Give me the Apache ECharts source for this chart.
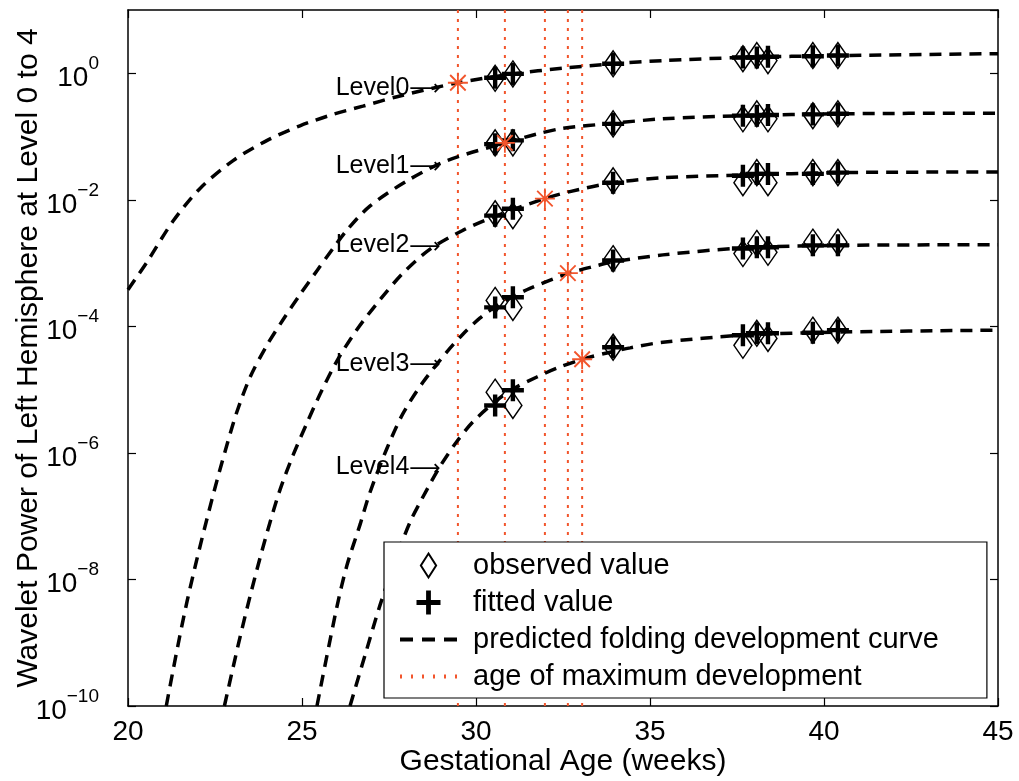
<!DOCTYPE html>
<html>
<head>
<meta charset="utf-8">
<title>Wavelet power vs gestational age</title>
<script src="https://cdn.jsdelivr.net/npm/echarts@6.0.0/dist/echarts.min.js"></script>
<style>
  html, body { margin: 0; padding: 0; background: #fff; }
  #chart { width: 1019px; height: 781px; }
</style>
</head>
<body>
<div id="chart"></div>
<script>
// ages of the 8 scans (weeks)
const ages = [30.55, 31.06, 33.94, 37.67, 38.07, 38.39, 39.68, 40.40]

// observed / fitted values, stored as log10 exponents
const obsL0 = [-0.08, -0.01, 0.15, 0.23, 0.28, 0.20, 0.28, 0.28]
const fitL0 = [-0.07, -0.01, 0.15, 0.25, 0.25, 0.26, 0.27, 0.28]
const obsL1 = [-1.10, -1.10, -0.80, -0.72, -0.64, -0.72, -0.67, -0.64]
const fitL1 = [-1.12, -1.06, -0.80, -0.67, -0.67, -0.66, -0.65, -0.64]
const obsL2 = [-2.22, -2.25, -1.70, -1.73, -1.57, -1.73, -1.57, -1.57]
const fitL2 = [-2.25, -2.14, -1.73, -1.62, -1.59, -1.59, -1.59, -1.57]
const obsL3 = [-3.59, -3.70, -2.93, -2.85, -2.69, -2.83, -2.67, -2.67]
const fitL3 = [-3.70, -3.54, -2.96, -2.77, -2.75, -2.75, -2.72, -2.72]
const obsL4 = [-5.04, -5.25, -4.33, -4.30, -4.11, -4.19, -4.06, -4.06]
const fitL4 = [-5.25, -5.01, -4.33, -4.14, -4.11, -4.11, -4.10, -4.06]

// predicted curves: [age, log10 value]
const curveL0 = [[20.0, -3.42], [20.55, -2.98], [21.29, -2.34], [22.07, -1.82], [23.02, -1.38], [24.0, -1.06],
  [24.94, -0.83], [25.89, -0.65], [26.75, -0.52], [27.73, -0.37], [29.48, -0.15], [31.06, -0.01], [32.5, 0.08],
  [33.94, 0.15], [35.37, 0.20], [37.67, 0.25], [40.46, 0.28], [45, 0.31]]
const curveL1 = [[21.1, -10.0], [21.29, -9.45], [21.49, -8.89], [21.70, -8.34], [21.98, -7.68], [22.27, -7.04],
  [22.56, -6.43], [22.84, -5.88], [23.13, -5.35], [23.51, -4.80], [23.99, -4.30], [24.45, -3.90], [24.94, -3.50],
  [25.43, -3.12], [25.89, -2.77], [26.29, -2.48], [26.95, -2.10], [28.02, -1.70], [29.17, -1.38], [30.83, -1.10],
  [31.75, -0.96], [32.5, -0.87], [33.94, -0.79], [35.37, -0.72], [37.67, -0.67], [40.46, -0.64], [45, -0.63]]
const curveL2 = [[22.77, -10.0], [23.02, -9.39], [23.22, -8.91], [23.51, -8.26], [23.79, -7.67], [24.08, -7.10],
  [24.37, -6.58], [24.74, -6.04], [25.14, -5.53], [25.52, -5.07], [26.01, -4.54], [26.58, -4.05], [27.24, -3.58],
  [27.90, -3.16], [28.68, -2.78], [29.63, -2.48], [30.55, -2.26], [31.98, -1.98], [32.70, -1.87], [33.94, -1.73],
  [35.37, -1.65], [37.67, -1.61], [40.46, -1.57], [45, -1.56]]
const curveL3 = [[25.43, -10.0], [26.0, -8.44], [26.29, -7.78], [26.67, -7.13], [26.95, -6.63], [27.44, -5.93],
  [27.90, -5.38], [28.48, -4.88], [29.17, -4.40], [29.63, -4.12], [30.11, -3.87], [30.55, -3.69], [31.06, -3.53],
  [31.55, -3.40], [32.61, -3.17], [33.48, -3.04], [33.94, -2.98], [35.37, -2.87], [37.67, -2.76], [40.46, -2.72],
  [45, -2.71]]
const curveL4 = [[26.38, -10.0], [26.81, -9.20], [27.24, -8.41], [27.67, -7.72], [28.10, -7.10], [28.59, -6.58],
  [28.97, -6.21], [29.45, -5.82], [29.91, -5.51], [30.55, -5.19], [31.06, -4.99], [31.75, -4.80], [32.33, -4.66],
  [33.05, -4.52], [33.76, -4.42], [34.43, -4.34], [35.37, -4.25], [37.67, -4.14], [40.46, -4.09], [45, -4.06]]

// age of maximum development per level
const maxAges = [29.48, 30.83, 31.98, 32.64, 33.05]
const maxExp = [-0.15, -1.10, -1.98, -3.16, -4.52]

// level tags (arrow tip)
const levelNames = ['Level0', 'Level1', 'Level2', 'Level3', 'Level4']
const tagAge = 28.99
const tagExp = [-0.23, -1.46, -2.72, -4.59, -6.23]

const xTicks = [20, 45, 5]       // min, max, step
const yExpRange = [-10, 1, 2]    // log10 min, max, step

const FONT = '"Liberation Sans", Arial, Helvetica, sans-serif'
const RED = '#f2552c'
const DIAMOND = 'path://M7,0L14,11L7,22L0,11Z'
const PLUS = 'path://M8,0H12V20H8Z M0,8H20V12H0Z'
const STAR = 'path://M9.1,0H10.9V20H9.1Z M0,9.1H20V10.9H0Z M1.6,2.9L2.9,1.6L18.4,17.1L17.1,18.4Z M17.1,1.6L18.4,2.9L2.9,18.4L1.6,17.1Z'
const DASH_ICON = 'path://M0,0H13V4H0Z M22,0H35V4H22Z M44,0H57V4H44Z'
const DOT_ICON = 'path://M0,0H2V4H0Z M11,0H13V4H11Z M22,0H24V4H22Z M33,0H35V4H33Z M44,0H46V4H44Z M55,0H57V4H55Z'

const p10 = e => Math.pow(10, e)
const curves = [curveL0, curveL1, curveL2, curveL3, curveL4]
const observed = [obsL0, obsL1, obsL2, obsL3, obsL4]
const fitted = [fitL0, fitL1, fitL2, fitL3, fitL4]

const series = []

// red dotted verticals
maxAges.forEach(a => {
  series.push({
    name: 'age of maximum development', type: 'line', symbol: 'none', silent: true, z: 1,
    itemStyle: { color: RED },
    data: [[a, p10(yExpRange[0])], [a, p10(yExpRange[1])]],
    lineStyle: { color: RED, width: 2, type: [3, 6] }
  })
})

curves.forEach(c => {
  series.push({
    name: 'predicted folding development curve', type: 'line', symbol: 'none', z: 2,
    smooth: 0.3,
    itemStyle: { color: '#000' },
    data: c.map(p => [p[0], p10(p[1])]),
    lineStyle: { color: '#000', width: 3.5, type: [12, 8] }
  })
})

series.push({
  name: 'observed value', type: 'scatter', z: 3,
  symbol: DIAMOND, symbolSize: [18, 26], symbolKeepAspect: false,
  itemStyle: { color: 'rgba(0,0,0,0)', borderColor: '#000', borderWidth: 1.5, opacity: 1 },
  data: observed.flatMap(arr => arr.map((e, i) => [ages[i], p10(e)]))
})

series.push({
  name: 'fitted value', type: 'scatter', z: 4,
  symbol: PLUS, symbolSize: 22,
  itemStyle: { color: '#000', opacity: 1 },
  data: fitted.flatMap(arr => arr.map((e, i) => [ages[i], p10(e)]))
})

series.push({
  name: 'max', type: 'scatter', z: 5,
  symbol: STAR, symbolSize: 20,
  itemStyle: { color: RED, opacity: 1 },
  data: maxAges.map((a, i) => [a, p10(maxExp[i])])
})

series.push({
  name: 'tags', type: 'scatter', z: 5, symbolSize: 0, silent: true,
  itemStyle: { opacity: 1 },
  label: {
    show: true, position: 'left', distance: 0, formatter: '{t|{b}}{a|\u27F6}',
    color: '#000', opacity: 1,
    rich: {
      t: { fontFamily: FONT, fontSize: 25, color: '#000' },
      a: { fontFamily: '"DejaVu Sans"', fontSize: 22, color: '#000', padding: [3, 0, 0, 0] }
    }
  },
  data: levelNames.map((n, i) => ({ name: n, value: [tagAge, p10(tagExp[i])] }))
})

const supExp = v => {
  const e = Math.round(Math.log10(v))
  return '{b|10}{s|' + (e < 0 ? '\u2212' + (-e) : e) + '}'
}

const axisCommon = {
  axisLine: { show: true, lineStyle: { color: '#000', width: 1.5 } },
  axisTick: { show: true, inside: true, length: 8, lineStyle: { color: '#000', width: 1.2 } },
  splitLine: { show: false }
}

const chart = echarts.init(document.getElementById('chart'))
chart.setOption({
  animation: false,
  backgroundColor: '#fff',
  textStyle: { fontFamily: FONT },
  grid: { left: 128, right: 21, top: 10, bottom: 75, outerBoundsMode: 'none', containLabel: false },
  legend: {
    left: 384, top: 542, orient: 'vertical',
    padding: [9, 48, 7, 16], itemGap: 8, itemWidth: 57, itemHeight: 24,
    backgroundColor: '#fff', borderColor: '#000', borderWidth: 1.2, borderRadius: 0,
    textStyle: { fontFamily: FONT, fontSize: 29, color: '#000', padding: [0, 0, 0, 11] },
    data: [
      { name: 'observed value', icon: DIAMOND },
      { name: 'fitted value', icon: PLUS },
      { name: 'predicted folding development curve', icon: DASH_ICON, itemStyle: { color: '#000' } },
      { name: 'age of maximum development', icon: DOT_ICON, itemStyle: { color: RED } }
    ]
  },
  xAxis: [
    Object.assign({}, axisCommon, {
      type: 'value', position: 'bottom', min: xTicks[0], max: xTicks[1], interval: xTicks[2],
      axisLabel: { fontFamily: FONT, fontSize: 28, color: '#000', margin: 12 },
      name: 'Gestational Age (weeks)', nameLocation: 'middle', nameGap: 41, nameMoveOverlap: false,
      nameTextStyle: { fontFamily: FONT, fontSize: 30, color: '#000' }
    }),
    Object.assign({}, axisCommon, {
      type: 'value', position: 'top', min: xTicks[0], max: xTicks[1], interval: xTicks[2],
      axisLabel: { show: false }
    })
  ],
  yAxis: [
    Object.assign({}, axisCommon, {
      type: 'log', logBase: 10, position: 'left',
      min: p10(yExpRange[0]), max: p10(yExpRange[1]), interval: yExpRange[2],
      axisLabel: {
        fontFamily: FONT, color: '#000', margin: 29, showMaxLabel: false,
        formatter: supExp,
        rich: {
          b: { fontFamily: FONT, fontSize: 28, lineHeight: 38, verticalAlign: 'bottom' },
          s: { fontFamily: FONT, fontSize: 19, verticalAlign: 'top' }
        }
      },
      name: 'Wavelet Power of Left Hemisphere at Level 0 to 4', nameLocation: 'middle', nameGap: 84,
      nameMoveOverlap: false,
      nameTextStyle: { fontFamily: FONT, fontSize: 30, color: '#000' }
    }),
    Object.assign({}, axisCommon, {
      type: 'log', logBase: 10, position: 'right',
      min: p10(yExpRange[0]), max: p10(yExpRange[1]), interval: yExpRange[2],
      axisLabel: { show: false }
    })
  ],
  series: series
})
</script>
</body>
</html>
